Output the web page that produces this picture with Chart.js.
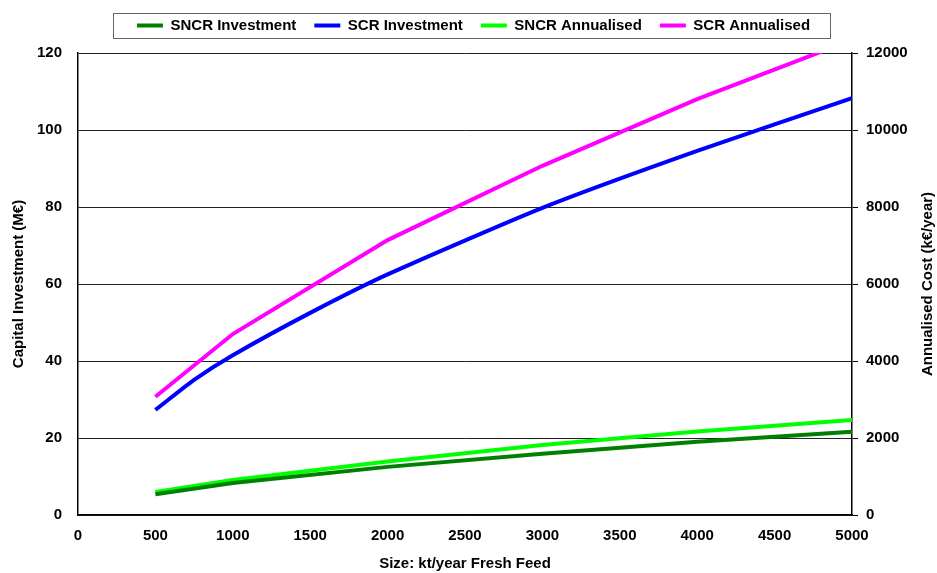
<!DOCTYPE html>
<html>
<head>
<meta charset="utf-8">
<script src="https://cdn.jsdelivr.net/npm/chart.js@4/dist/chart.umd.min.js"></script>
<style>
	html, body { margin: 0; padding: 0; background: #fff; }
	#wrap { width: 937px; height: 573px; }
</style>
</head>
<body>
<div id="wrap"><canvas id="costChart"></canvas></div>
<script>
// Data
var sizes = [500, 1000, 2000, 3000, 4000, 5000];
var scrSizes = [500, 750, 1000, 1500, 2000, 3000, 4000, 5000];
var sncrInvestment = [5.4, 8.3, 12.5, 15.9, 19.0, 21.6];
var scrInvestment = [27.3, 35.1, 41.5, 52.5, 62.5, 79.8, 94.6, 108.3];
var sncrAnnualised = [600, 910, 1390, 1820, 2170, 2470];
var scrAnnualised = [3070, 4700, 7140, 9070, 10800, 12340];

var leftTicks = [0, 20, 40, 60, 80, 100, 120];
var rightTicks = [0, 2000, 4000, 6000, 8000, 10000, 12000];
var xTicks = [0, 500, 1000, 1500, 2000, 2500, 3000, 3500, 4000, 4500, 5000];

function pairs(xs, ys) {
	return xs.map(function(x, i) { return {x: x, y: ys[i]}; });
}
function plain(v) { return String(v); }
function fixTicks(list) {
	return function(s) { s.ticks = list.map(function(v) { return {value: v}; }); };
}

var font = {family: "'Liberation Sans', Arial, sans-serif", size: 15, weight: 'bold'};
var rightTitle = 'Annualised Cost (k\u20ac/year)';

// legend frame, extra room under legend, right axis title reading upward
var extras = {
	id: 'extras',
	afterInit: function(chart) {
		var lg = chart.legend;
		var fit = lg.fit;
		lg.fit = function() {
			fit.call(this);
			this.height += 10;
		};
	},
	afterDraw: function(chart) {
		var ctx = chart.ctx;
		var boxes = chart.legend.legendHitBoxes;
		if (boxes && boxes.length) {
			var first = boxes[0], last = boxes[boxes.length - 1];
			var cy = first.top + first.height / 2;
			ctx.save();
			ctx.strokeStyle = '#666';
			ctx.lineWidth = 1;
			ctx.strokeRect(Math.round(first.left - 24) + 0.5, Math.round(cy - 13) + 0.5,
				Math.round(last.left + last.width - first.left + 44), 25);
			ctx.restore();
		}
		var s = chart.scales.y2;
		var a = chart.chartArea;
		ctx.save();
		ctx.font = 'bold 15px ' + font.family;
		ctx.fillStyle = '#000';
		ctx.textAlign = 'center';
		ctx.textBaseline = 'middle';
		ctx.translate(s.right - 9, (a.top + a.bottom) / 2);
		ctx.rotate(-Math.PI / 2);
		ctx.fillText(rightTitle, 0, 0);
		ctx.restore();
	}
};

var ctx = document.getElementById('costChart');
var costChart = new Chart(ctx, {
	type: 'line',
	data: {
		datasets: [{
			label: 'SNCR Investment',
			data: pairs(sizes, sncrInvestment),
			borderColor: '#008000',
			backgroundColor: '#008000',
			yAxisID: 'y'
		}, {
			label: 'SCR Investment',
			data: pairs(scrSizes, scrInvestment),
			borderColor: '#0000FF',
			backgroundColor: '#0000FF',
			tension: 0.2,
			yAxisID: 'y'
		}, {
			label: 'SNCR Annualised',
			data: pairs(sizes, sncrAnnualised),
			borderColor: '#00FF00',
			backgroundColor: '#00FF00',
			yAxisID: 'y2'
		}, {
			label: 'SCR Annualised',
			data: pairs(sizes, scrAnnualised),
			borderColor: '#FF00FF',
			backgroundColor: '#FF00FF',
			yAxisID: 'y2'
		}]
	},
	options: {
		responsive: true,
		maintainAspectRatio: false,
		animation: false,
		elements: {
			line: {borderWidth: 4, tension: 0, borderCapStyle: 'butt'},
			point: {radius: 0, borderWidth: 4}
		},
		layout: {padding: {top: 0, left: 10, right: 0, bottom: 0}},
		plugins: {
			tooltip: {enabled: false},
			legend: {
				position: 'top',
				labels: {
					usePointStyle: true,
					pointStyle: 'line',
					pointStyleWidth: 26,
					padding: 18,
					color: '#000',
					font: font
				}
			}
		},
		scales: {
			x: {
				type: 'linear',
				min: 0,
				max: 5000,
				afterBuildTicks: fixTicks(xTicks),
				afterFit: function(s) { s.height = 58; },
				grid: {display: false, drawTicks: false},
				border: {display: true, color: '#000', width: 1.5},
				ticks: {color: '#000', font: font, padding: 12, maxRotation: 0, callback: plain},
				title: {display: true, text: 'Size: kt/year Fresh Feed', color: '#000', font: font, padding: {top: 0, bottom: 0}}
			},
			y: {
				position: 'left',
				min: 0,
				max: 120,
				afterBuildTicks: fixTicks(leftTicks),
				afterFit: function(s) { s.width = 68; },
				grid: {color: '#222', lineWidth: 1, drawTicks: false},
				border: {display: true, color: '#000', width: 1.5},
				ticks: {color: '#000', font: font, padding: 16, callback: plain},
				title: {display: true, text: 'Capital Investment (M\u20ac)', color: '#000', font: font, padding: {top: 0, bottom: 4}}
			},
			y2: {
				position: 'right',
				min: 0,
				max: 12000,
				afterBuildTicks: fixTicks(rightTicks),
				afterFit: function(s) { s.width = 85; },
				grid: {drawOnChartArea: false, color: '#000', tickLength: 6},
				border: {display: true, color: '#000', width: 1.5},
				ticks: {color: '#000', font: font, padding: 8, callback: plain},
				title: {display: true, text: rightTitle, color: 'rgba(0,0,0,0)', font: font, padding: {top: 4, bottom: 4}}
			}
		}
	},
	plugins: [extras]
});
</script>
</body>
</html>
